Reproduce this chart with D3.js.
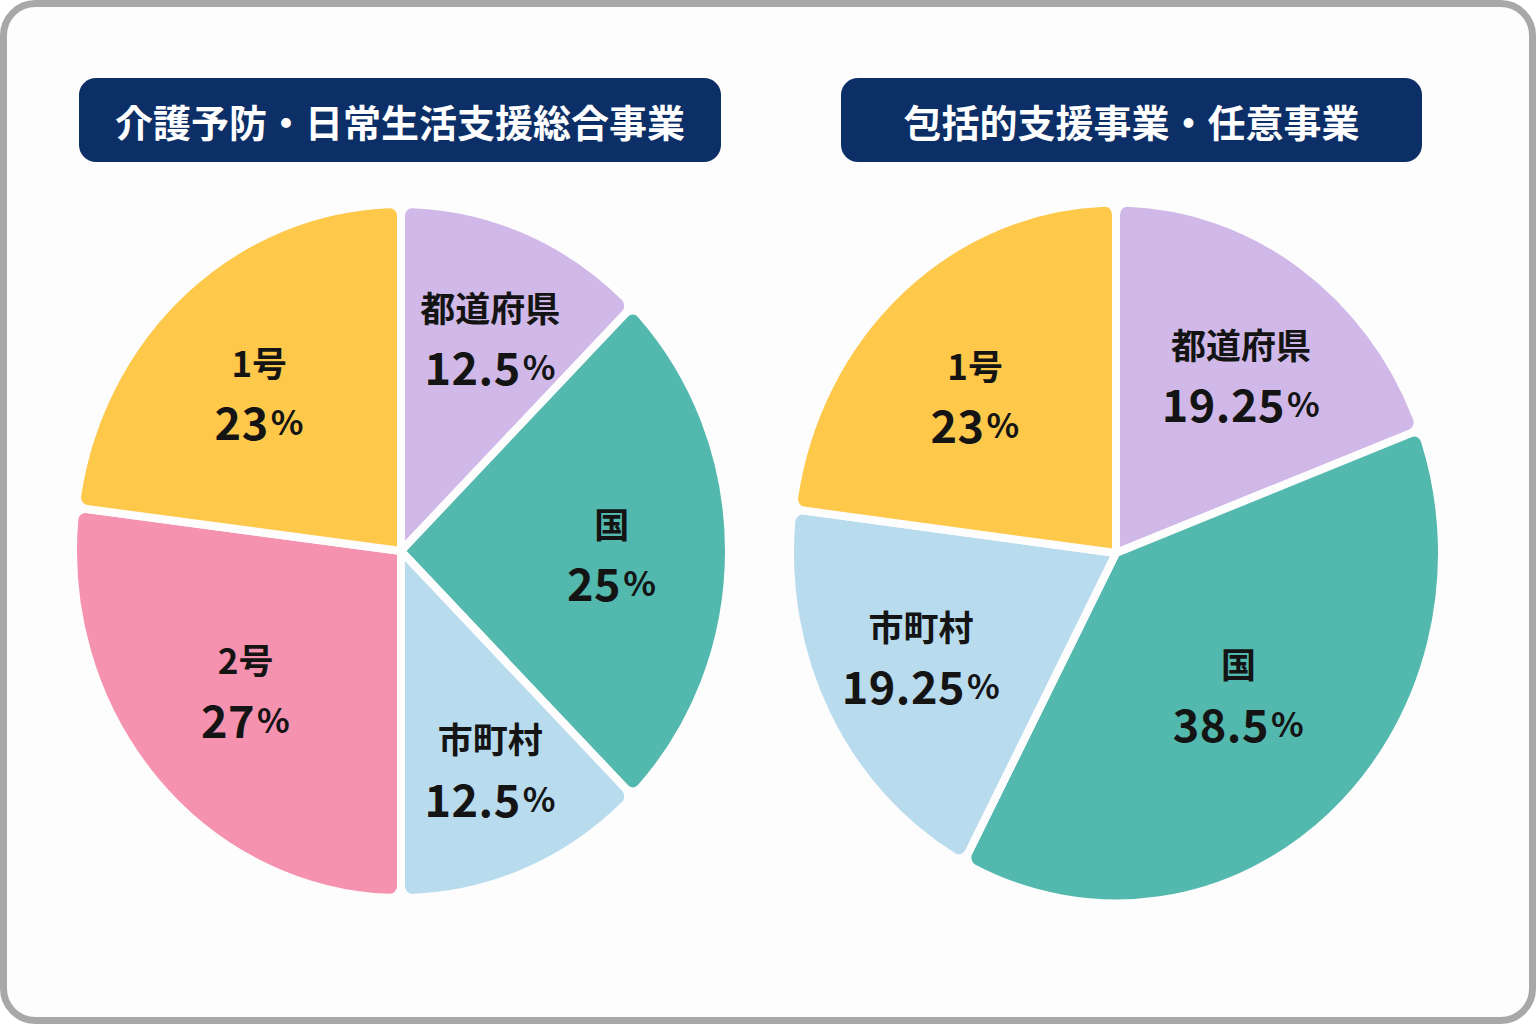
<!DOCTYPE html>
<html>
<head>
<meta charset="utf-8">
<script src="https://cdn.jsdelivr.net/npm/d3@7"></script>
<style>
  html, body { margin: 0; padding: 0; background: #ffffff; }
  svg { display: block; }
  text { font-family: "Noto Sans CJK JP", "Noto Sans", sans-serif; }
</style>
</head>
<body>
<div id="chart"></div>
<script>
// donnees
var leftTitle = "介護予防・日常生活支援総合事業";
var leftLabels = ["都道府県", "国", "市町村", "2号", "1号"];
var leftValues = [12.5, 25, 12.5, 27, 23];

var rightTitle = "包括的支援事業・任意事業";
var rightLabels = ["都道府県", "国", "市町村", "1号"];
var rightValues = [19.25, 38.5, 19.25, 23];

var categories = ["1号", "2号", "都道府県", "国", "市町村"];
var palette = ["#fec84b", "#f592b0", "#d0b9e8", "#53b8ad", "#b8dbee"];

var width = 1536, height = 1024;
var bg = "#fdfdfd";

var color = d3.scaleOrdinal().domain(categories).range(palette);

var svg = d3.select("#chart").append("svg")
  .attr("width", width)
  .attr("height", height);

// cadre gris arrondi
svg.append("rect")
  .attr("x", 3.5).attr("y", 3.5)
  .attr("width", width - 7).attr("height", height - 7)
  .attr("rx", 32)
  .style("fill", bg)
  .style("stroke", "#a8a8a8")
  .style("stroke-width", 7);

function pieChart(options = {}) {
  var cx = options.cx || 400,
    cy = options.cy || 550,
    r = options.r || 328,
    sy = options.sy || 1,          // l'image est un peu etiree en hauteur
    title = options.title || "",
    titleBox = options.titleBox || [80, 78, 640, 84],
    labels = options.labels || [],
    values = options.values || [];

  var data = labels.map((l, i) => ({ label: l, value: values[i] }));
  var total = d3.sum(values);

  var pie = d3.pie().sort(null).value(d => d.value);
  var arc = d3.arc().innerRadius(0).outerRadius(r).cornerRadius(11);

  // les petites parts ont leur etiquette plus loin du centre
  function labelPos(d) {
    var lr = r * (0.78 - 0.55 * d.value / total);
    return d3.arc().innerRadius(lr).outerRadius(lr).centroid(d);
  }

  var g = svg.append("g").attr("class", "pie");

  // titre
  g.append("rect")
    .attr("x", titleBox[0]).attr("y", titleBox[1])
    .attr("width", titleBox[2]).attr("height", titleBox[3])
    .attr("rx", 17)
    .style("fill", "#0b2f66");
  g.append("text")
    .attr("x", titleBox[0] + titleBox[2] / 2)
    .attr("y", titleBox[1] + titleBox[3] / 2)
    .attr("text-anchor", "middle")
    .attr("dominant-baseline", "central")
    .style("font-size", "38px")
    .style("font-weight", 700)
    .style("fill", "#ffffff")
    .text(title);

  // parts
  var slices = g.append("g")
    .attr("transform", "translate(" + cx + "," + cy + ") scale(1," + sy + ")");
  slices.selectAll("path")
    .data(pie(data))
    .enter().append("path")
    .attr("d", arc)
    .style("fill", d => color(d.data.label))
    .style("stroke", bg)
    .style("stroke-width", 8)
    .style("stroke-linejoin", "round")
    .attr("vector-effect", "non-scaling-stroke");

  // etiquettes (pas d'etirement du texte)
  var lab = g.append("g").attr("transform", "translate(" + cx + "," + cy + ")")
    .selectAll("g")
    .data(pie(data))
    .enter().append("g")
    .attr("transform", d => "translate(" + labelPos(d) + ")");

  lab.append("text")
    .attr("y", -29)
    .attr("text-anchor", "middle")
    .attr("dominant-baseline", "central")
    .style("font-size", "35px")
    .style("font-weight", 700)
    .style("fill", "#141414")
    .text(d => d.data.label);

  var val = lab.append("text")
    .attr("y", 30)
    .attr("text-anchor", "middle")
    .attr("dominant-baseline", "central")
    .style("font-weight", 600)
    .style("fill", "#141414")
    .style("letter-spacing", "0.5px");
  val.append("tspan").style("font-size", "45px").text(d => d.data.value);
  val.append("tspan").style("font-size", "34px").attr("dx", 2).text("%");

  return g;
}

pieChart({
  cx: 401, cy: 551, r: 328, sy: 1.058,
  title: leftTitle, titleBox: [79, 78, 642, 84],
  labels: leftLabels, values: leftValues
});

pieChart({
  cx: 1116, cy: 553, r: 326, sy: 1.075,
  title: rightTitle, titleBox: [841, 78, 581, 84],
  labels: rightLabels, values: rightValues
});
</script>
</body>
</html>
